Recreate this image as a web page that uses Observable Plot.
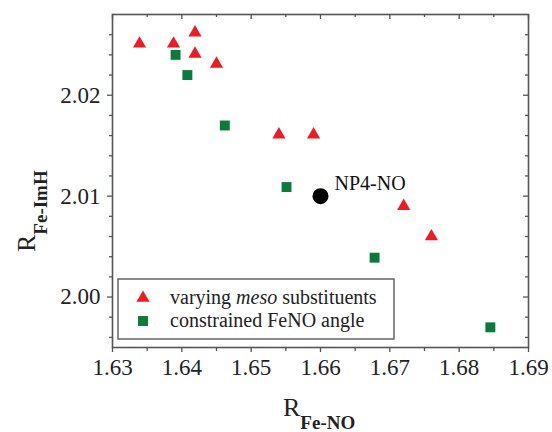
<!DOCTYPE html>
<html><head><meta charset="utf-8">
<script src="https://cdn.jsdelivr.net/npm/d3@7"></script>
<script src="https://cdn.jsdelivr.net/npm/@observablehq/plot@0.6"></script>
<style>
body{margin:0;background:#fff;}
#chart{position:relative;width:552px;height:432px;}
#chart svg text{font-family:'Liberation Serif','Times New Roman',serif;}
</style>
</head><body><div id="chart"></div>
<script>
// Data
const mesoX = [1.6339, 1.6388, 1.6419, 1.6419, 1.6450, 1.6540, 1.6590, 1.6720, 1.6760];
const mesoY = [2.0251, 2.0251, 2.0262, 2.0241, 2.0231, 2.0161, 2.0161, 2.0090, 2.0060];
const angleX = [1.6391, 1.6408, 1.6462, 1.6551, 1.6678, 1.6845];
const angleY = [2.0240, 2.0220, 2.0170, 2.0109, 2.0039, 1.9970];
const np4X = [1.660];
const np4Y = [2.010];
const np4Labels = ["NP4-NO"];
const seriesNames = ["varying ", "meso", " substituents", "constrained FeNO angle"];
const xMajor = [1.63, 1.64, 1.65, 1.66, 1.67, 1.68, 1.69];
const xMinor = [1.635, 1.645, 1.655, 1.665, 1.675, 1.685];
const yMajor = [2.00, 2.01, 2.02];
const yMinor = [1.996, 1.998, 2.002, 2.004, 2.006, 2.008, 2.012, 2.014, 2.016, 2.018, 2.022, 2.024, 2.026];

const RED = "#ec1c24", GREEN = "#0c7a3c", AXIS = "#555";
const FONT = "'Liberation Serif', 'Times New Roman', serif";
const meso = mesoX.map((x, i) => ({x, y: mesoY[i]}));
const angle = angleX.map((x, i) => ({x, y: angleY[i]}));
const np4 = np4X.map((x, i) => ({x, y: np4Y[i], label: np4Labels[i]}));

const W = 552, H = 432, mL = 112, mR = 24, mT = 14, mB = 85;
const innerW = W - mL - mR, innerH = H - mT - mB;

const plot = Plot.plot({
  width: W, height: H,
  marginLeft: mL, marginRight: mR, marginTop: mT, marginBottom: mB,
  style: {background: "#fff", color: "#222"},
  x: {domain: [1.63, 1.69]},
  y: {domain: [1.995, 2.028]},
  marks: [
    // bottom axis (outside ticks)
    Plot.axisX(xMajor, {anchor: "bottom", tickSize: 5, tickPadding: 6, tickFormat: d3.format(".2f"), fontSize: 23, fontFamily: FONT, stroke: AXIS, strokeWidth: 1.3, label: null}),
    Plot.axisX(xMinor, {anchor: "bottom", tickSize: 4, tickFormat: () => "", stroke: AXIS, strokeWidth: 1.3, label: null}),
    // left axis (outside ticks)
    Plot.axisY(yMajor, {anchor: "left", tickSize: 5, tickPadding: 7, tickFormat: d3.format(".2f"), fontSize: 23, fontFamily: FONT, stroke: AXIS, strokeWidth: 1.3, label: null}),
    Plot.axisY(yMinor, {anchor: "left", tickSize: 3, tickFormat: () => "", stroke: AXIS, strokeWidth: 1.3, label: null}),
    // top axis inside ticks
    Plot.ruleX(xMajor, {x: d => d, insetBottom: innerH - 5, stroke: AXIS, strokeWidth: 1.3}),
    Plot.ruleX(xMinor, {x: d => d, insetBottom: innerH - 3, stroke: AXIS, strokeWidth: 1.3}),
    // right axis inside ticks
    Plot.ruleY(yMajor, {y: d => d, insetLeft: innerW - 5, stroke: AXIS, strokeWidth: 1.3}),
    Plot.ruleY(yMinor, {y: d => d, insetLeft: innerW - 3, stroke: AXIS, strokeWidth: 1.3}),
    Plot.frame({stroke: AXIS, strokeWidth: 1.6}),
    Plot.dot(meso, {x: "x", y: "y", symbol: "triangle", r: 4.9, fill: RED}),
    Plot.dot(angle, {x: "x", y: "y", symbol: "square", r: 5.6, fill: GREEN}),
    Plot.dot(np4, {x: "x", y: "y", r: 8, fill: "#000"}),
    Plot.text(np4, {x: "x", y: "y", text: "label", dx: 14, dy: -13, textAnchor: "start", fontSize: 20, fontFamily: FONT, fill: "#111"})
  ]
});
document.getElementById("chart").appendChild(plot);

const svg = d3.select(plot);
// X axis title
const xt = svg.append("text").attr("x", 283).attr("y", 416).attr("text-anchor", "start")
  .attr("font-family", FONT).attr("fill", "#222");
xt.append("tspan").attr("font-size", 26).text("R");
xt.append("tspan").attr("font-size", 19).attr("font-weight", "bold").attr("dy", 13).text("Fe-NO");
// Y axis title
const yt = svg.append("text").attr("transform", "translate(35,252) rotate(-90)").attr("text-anchor", "start")
  .attr("font-family", FONT).attr("fill", "#222");
yt.append("tspan").attr("font-size", 26).text("R");
yt.append("tspan").attr("font-size", 19).attr("font-weight", "bold").attr("dy", 12).text("Fe-ImH");

// Legend
const lg = svg.append("g").attr("font-family", FONT).attr("text-anchor", "start");
lg.append("rect").attr("x", 118).attr("y", 279).attr("width", 276).attr("height", 60)
  .attr("fill", "#fff").attr("stroke", "#666").attr("stroke-width", 1.5);
lg.append("path").attr("transform", "translate(143,298)")
  .attr("d", d3.symbol(d3.symbolTriangle, Math.PI * 4.9 * 4.9)()).attr("fill", RED);
lg.append("path").attr("transform", "translate(143,321)")
  .attr("d", d3.symbol(d3.symbolSquare, Math.PI * 5.6 * 5.6)()).attr("fill", GREEN);
const t1 = lg.append("text").attr("x", 170).attr("y", 304).attr("font-size", 20).attr("fill", "#222");
t1.append("tspan").text(seriesNames[0]);
t1.append("tspan").attr("font-style", "italic").text(seriesNames[1]);
t1.append("tspan").text(seriesNames[2]);
lg.append("text").attr("x", 170).attr("y", 327).attr("font-size", 20).attr("fill", "#222").text(seriesNames[3]);
</script>
</body></html>
